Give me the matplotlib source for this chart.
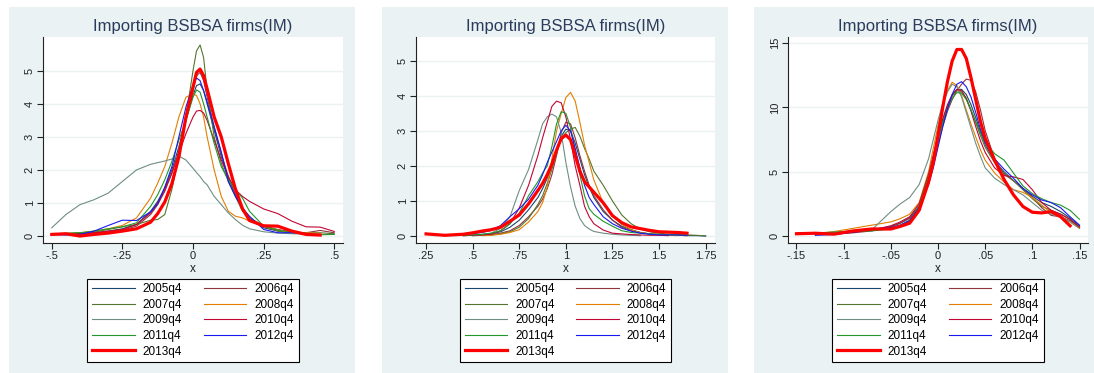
import numpy as np
import matplotlib
matplotlib.use("Agg")
import matplotlib.pyplot as plt
from matplotlib.patches import Rectangle

plt.rcParams['font.family'] = ['Liberation Sans', 'DejaVu Sans']

nan = np.nan

labels = ['2005q4', '2006q4', '2007q4', '2008q4', '2009q4',
          '2010q4', '2011q4', '2012q4', '2013q4']
colors = ['#1A476F', '#90353B', '#55752F', '#E37E00', '#6E8E84',
          '#C10534', '#22962A', '#1A1AF0', '#FF0000']
title = 'Importing BSBSA firms(IM)'

# ---- panel 1 ----
x1 = [-0.5, -0.45, -0.4, -0.35, -0.3, -0.25, -0.2, -0.15, -0.125, -0.1, -0.075, -0.05,
      -0.025, 0, 0.0125, 0.025, 0.0375, 0.05, 0.075, 0.1, 0.125, 0.15, 0.175, 0.2,
      0.25, 0.3, 0.35, 0.4, 0.45, 0.5]
p1_2005 = [0.04, 0.05, 0.06, 0.10, 0.15, 0.22, 0.35, 0.75, 1.05, 1.45, 2.0, 2.7, 3.5, 4.25, 4.55,
           4.6, 4.4, 4.0, 3.2, 2.4, 1.75, 1.25, 0.85, 0.55, 0.25, 0.15, 0.10, 0.06, 0.04, nan]
p1_2006 = [0.06, 0.06, 0.05, 0.08, 0.12, 0.18, 0.30, 0.65, 0.95, 1.35, 1.9, 2.6, 3.5, 4.4, 4.85,
           4.95, 4.7, 4.2, 3.3, 2.5, 1.8, 1.25, 0.85, 0.55, 0.30, 0.20, 0.12, 0.10, 0.17, 0.10]
p1_2007 = [0.07, 0.08, 0.10, 0.12, 0.20, 0.28, 0.35, 0.48, 0.50, 0.65, 1.4, 2.4, 3.6, 5.0, 5.6,
           5.78, 5.4, 4.4, 3.0, 2.2, 1.65, 1.2, 0.75, 0.55, 0.30, 0.15, 0.10, 0.10, 0.10, 0.07]
p1_2008 = [0.05, 0.07, 0.10, 0.15, 0.22, 0.32, 0.55, 1.15, 1.6, 2.1, 2.8, 3.6, 4.2, 4.3, 4.25,
           4.0, 3.6, 3.0, 2.0, 1.2, 0.75, 0.6, 0.55, 0.45, 0.30, 0.18, 0.12, 0.10, 0.08, nan]
p1_2009 = [0.25, 0.65, 0.95, 1.10, 1.30, 1.65, 2.0, 2.17, 2.22, 2.27, 2.33, 2.42, 2.3, 2.05, 1.92,
           1.8, 1.65, 1.55, 1.2, 0.95, 0.7, 0.5, 0.33, 0.22, 0.13, 0.09, 0.07, 0.06, 0.05, nan]
p1_2010 = [0.06, 0.07, 0.08, 0.10, 0.15, 0.20, 0.35, 0.7, 1.0, 1.4, 1.9, 2.5, 3.1, 3.6, 3.78,
           3.8, 3.72, 3.5, 2.9, 2.3, 1.8, 1.4, 1.2, 1.05, 0.82, 0.68, 0.45, 0.28, 0.27, 0.14]
p1_2011 = [0.05, 0.08, 0.10, 0.15, 0.22, 0.28, 0.40, 0.9, 1.25, 1.7, 2.25, 2.9, 3.5, 4.2, 4.42,
           4.35, 4.0, 3.6, 2.8, 2.1, 1.7, 1.4, 1.15, 0.75, 0.30, 0.18, 0.12, 0.06, 0.04, 0.05]
p1_2012 = [0.05, 0.03, 0.05, 0.15, 0.32, 0.48, 0.47, 0.73, 0.98, 1.48, 2.09, 3.0, 3.9, 4.56, 4.78,
           4.7, 4.4, 4.05, 3.3, 2.55, 1.65, 1.2, 0.85, 0.6, 0.2, 0.1, 0.1, 0.08, 0.02, nan]
p1_2013 = [0.05, 0.07, 0.00, 0.05, 0.09, 0.15, 0.22, 0.42, 0.68, 1.03, 1.58, 2.39, 3.6, 4.5, 4.95,
           5.05, 4.85, 4.45, 3.6, 3.0, 2.19, 1.43, 0.83, 0.47, 0.31, 0.30, 0.15, 0.05, 0.03, nan]

# ---- panel 2 ----
x2 = [0.25, 0.35, 0.45, 0.5, 0.55, 0.6, 0.65, 0.7, 0.75, 0.8, 0.85, 0.875, 0.9, 0.925, 0.95,
      0.975, 1.0, 1.025, 1.05, 1.075, 1.1, 1.125, 1.15, 1.2, 1.25, 1.3, 1.35, 1.4, 1.45, 1.5,
      1.55, 1.6, 1.65, 1.7, 1.75]
p2_2005 = [nan, nan, 0.01, 0.02, 0.04, 0.07, 0.12, 0.25, 0.45, 0.75, 1.1, 1.35, 1.65, 2.0, 2.45,
           2.85, 3.05, 3.0, 2.65, 2.2, 1.75, 1.4, 1.1, 0.7, 0.45, 0.28, 0.18, 0.1, 0.06, 0.04,
           0.03, 0.02, 0.01, 0.01, 0.0]
p2_2006 = [nan, nan, nan, 0.01, 0.02, 0.04, 0.08, 0.15, 0.3, 0.55, 0.85, 1.05, 1.35, 1.75, 2.3,
           2.95, 3.25, 3.2, 2.8, 2.3, 1.85, 1.45, 1.15, 0.75, 0.45, 0.25, 0.15, 0.1, 0.06, 0.04,
           0.03, 0.02, 0.01, nan, nan]
p2_2007 = [nan, nan, nan, 0.01, 0.02, 0.03, 0.06, 0.12, 0.25, 0.5, 0.9, 1.15, 1.5, 1.9, 2.35,
           2.8, 2.95, 3.05, 3.1, 2.85, 2.5, 2.2, 1.85, 1.45, 1.0, 0.6, 0.35, 0.2, 0.12, 0.08,
           0.05, 0.04, 0.03, 0.02, 0.0]
p2_2008 = [nan, nan, nan, nan, 0.01, 0.02, 0.05, 0.1, 0.18, 0.4, 0.7, 0.95, 1.4, 2.2, 3.0,
           3.5, 3.95, 4.1, 3.85, 3.25, 2.6, 2.1, 1.6, 0.95, 0.6, 0.33, 0.18, 0.09, 0.06, 0.03,
           0.02, 0.01, nan, nan, nan]
p2_2009 = [nan, nan, 0.01, 0.02, 0.04, 0.08, 0.22, 0.55, 1.3, 1.9, 2.75, 3.2, 3.4, 3.48, 3.4,
           2.95, 2.1, 1.4, 0.85, 0.5, 0.3, 0.2, 0.13, 0.08, 0.05, 0.03, 0.02, 0.01, nan, nan,
           nan, nan, nan, nan, nan]
p2_2010 = [nan, nan, 0.01, 0.02, 0.03, 0.05, 0.15, 0.35, 0.8, 1.45, 2.3, 2.8, 3.25, 3.7, 3.85,
           3.8, 3.4, 2.75, 2.0, 1.45, 0.85, 0.55, 0.35, 0.17, 0.08, 0.06, 0.04, 0.03, 0.02, 0.02,
           0.01, nan, nan, nan, nan]
p2_2011 = [nan, 0.01, 0.02, 0.03, 0.05, 0.08, 0.15, 0.35, 0.65, 1.15, 1.55, 1.8, 2.0, 2.55, 3.2,
           3.55, 3.5, 3.1, 2.4, 1.75, 1.15, 0.78, 0.62, 0.42, 0.28, 0.15, 0.1, 0.08, 0.06, 0.05,
           0.04, 0.03, 0.03, nan, nan]
p2_2012 = [nan, 0.02, 0.05, 0.07, 0.1, 0.16, 0.3, 0.55, 0.78, 1.05, 1.45, 1.75, 2.1, 2.4, 2.7,
           3.0, 3.16, 3.0, 2.5, 1.95, 1.45, 1.1, 0.9, 0.55, 0.35, 0.22, 0.14, 0.08, 0.05, 0.03,
           0.03, 0.03, 0.02, nan, nan]
p2_2013 = [0.06, 0.02, 0.05, 0.09, 0.14, 0.18, 0.25, 0.42, 0.6, 0.92, 1.3, 1.5, 1.75, 2.05, 2.45,
           2.78, 2.88, 2.75, 2.3, 1.85, 1.55, 1.4, 1.25, 0.95, 0.58, 0.38, 0.26, 0.21, 0.16, 0.12,
           0.11, 0.1, 0.08, nan, nan]

# ---- panel 3 ----
x3 = [-0.15, -0.13, -0.11, -0.09, -0.07, -0.05, -0.04, -0.03, -0.02, -0.01, -0.005, 0, 0.005,
      0.01, 0.015, 0.02, 0.025, 0.03, 0.035, 0.04, 0.045, 0.05, 0.06, 0.07, 0.08, 0.09, 0.1,
      0.11, 0.12, 0.13, 0.14, 0.15]
p3_2005 = [nan, 0.12, 0.2, 0.35, 0.5, 0.75, 1.0, 1.4, 2.3, 4.4, 5.9, 7.5, 8.9, 10.0, 10.9, 11.4,
           11.4, 11.0, 10.2, 9.2, 8.1, 7.1, 5.8, 5.0, 4.3, 3.7, 3.1, 2.6, 2.3, 1.9, 1.4, 0.8]
p3_2006 = [nan, 0.1, 0.15, 0.25, 0.4, 0.7, 1.0, 1.4, 2.3, 4.2, 5.6, 7.1, 8.5, 9.7, 10.6, 11.3,
           11.8, 12.2, 12.1, 11.2, 9.8, 8.2, 6.0, 4.8, 4.3, 3.7, 3.0, 2.2, 1.6, 1.5, 1.2, 0.7]
p3_2007 = [0.2, 0.22, 0.28, 0.35, 0.45, 0.6, 0.85, 1.25, 2.3, 4.5, 6.0, 7.6, 9.0, 10.1, 10.9, 11.3,
           11.2, 10.7, 9.8, 8.8, 7.8, 6.9, 5.7, 4.9, 4.3, 3.6, 2.9, 2.3, 2.0, 1.7, 1.3, 0.7]
p3_2008 = [nan, 0.2, 0.35, 0.6, 0.85, 1.1, 1.35, 1.7, 2.6, 5.0, 6.8, 8.6, 10.2, 11.3, 11.95, 11.7,
           10.9, 9.8, 8.7, 7.7, 6.7, 5.9, 4.9, 4.2, 3.6, 3.4, 3.0, 2.4, 1.8, 1.5, 1.1, 0.6]
p3_2009 = [0.2, 0.22, 0.3, 0.4, 0.5, 1.9, 2.5, 3.0, 4.0, 6.0, 7.5, 9.0, 10.3, 11.2, 11.8, 11.6,
           10.8, 9.6, 8.4, 7.2, 6.2, 5.3, 4.5, 4.0, 3.6, 3.2, 2.6, 2.0, 1.7, 1.5, 1.1, 0.6]
p3_2010 = [nan, 0.15, 0.2, 0.3, 0.45, 0.8, 1.1, 1.5, 2.5, 4.8, 6.3, 7.8, 9.1, 10.2, 11.0, 11.4,
           11.3, 10.7, 9.7, 8.5, 7.4, 6.5, 5.3, 4.7, 4.6, 4.4, 3.6, 2.6, 2.0, 1.7, 1.3, 0.7]
p3_2011 = [0.22, 0.25, 0.3, 0.38, 0.4, 0.55, 0.75, 1.15, 2.3, 4.6, 6.0, 7.5, 8.8, 9.9, 10.7, 11.15,
           11.1, 10.6, 9.8, 8.9, 8.0, 7.3, 6.4, 5.9, 4.9, 3.9, 3.3, 2.9, 2.6, 2.4, 2.0, 1.3]
p3_2012 = [nan, 0.06, 0.12, 0.3, 0.55, 0.65, 0.85, 1.2, 2.2, 4.0, 5.3, 6.9, 8.5, 9.9, 11.0, 11.8,
           12.0, 11.6, 10.8, 9.6, 8.3, 7.3, 6.0, 5.2, 4.5, 3.7, 3.2, 2.8, 2.6, 2.2, 1.5, 0.85]
p3_2013 = [0.18, 0.22, 0.15, 0.4, 0.55, 0.55, 0.75, 1.0, 2.0, 4.2, 5.7, 7.8, 10.0, 12.0, 13.6, 14.5,
           14.5, 13.8, 12.3, 10.6, 8.9, 7.6, 5.9, 4.4, 3.2, 2.3, 1.85, 1.8, 1.9, 1.5, 0.8, nan]

x1_ticks = [-0.5, -0.25, 0, 0.25, 0.5]
x1_labels = ['-.5', '-.25', '0', '.25', '.5']
x2_ticks = [0.25, 0.5, 0.75, 1, 1.25, 1.5, 1.75]
x2_labels = ['.25', '.5', '.75', '1', '1.25', '1.5', '1.75']
x3_ticks = [-0.15, -0.1, -0.05, 0, 0.05, 0.1, 0.15]
x3_labels = ['-.15', '-.1', '-.05', '0', '.05', '.1', '.15']

panels = [
    dict(x=x1, ys=[p1_2005, p1_2006, p1_2007, p1_2008, p1_2009, p1_2010, p1_2011, p1_2012, p1_2013],
         xt=x1_ticks, xl=x1_labels, yt=[0, 1, 2, 3, 4, 5], xlim=(-0.531, 0.531), ylim=(-0.21, 6.02),
         bg=(9, 355), ax=(43, 343)),
    dict(x=x2, ys=[p2_2005, p2_2006, p2_2007, p2_2008, p2_2009, p2_2010, p2_2011, p2_2012, p2_2013],
         xt=x2_ticks, xl=x2_labels, yt=[0, 1, 2, 3, 4, 5], xlim=(0.196, 1.80), ylim=(-0.2, 5.68),
         bg=(382, 728), ax=(416, 715)),
    dict(x=x3, ys=[p3_2005, p3_2006, p3_2007, p3_2008, p3_2009, p3_2010, p3_2011, p3_2012, p3_2013],
         xt=x3_ticks, xl=x3_labels, yt=[0, 5, 10, 15], xlim=(-0.159, 0.159), ylim=(-0.54, 15.47),
         bg=(754, 1094), ax=(788, 1088)),
]

W, H = 1094, 373
fig = plt.figure(figsize=(W / 100, H / 100), dpi=100)
fig.patch.set_facecolor('white')

top_px, bot_px = 37, 243
for p in panels:
    b0, b1 = p['bg']
    fig.add_artist(Rectangle((b0 / W, 0), (b1 - b0) / W, (H - 7) / H,
                             transform=fig.transFigure, facecolor='#EAF2F3',
                             edgecolor='none', zorder=-10))
    a0, a1 = p['ax']
    ax = fig.add_axes([a0 / W, (H - bot_px) / H, (a1 - a0) / W, (bot_px - top_px) / H])
    ax.set_facecolor('white')
    lines = []
    for i, y in enumerate(p['ys']):
        lw = 2.3 if i == 8 else 0.8
        ln, = ax.plot(p['x'], y, color=colors[i], lw=lw, label=labels[i],
                      solid_joinstyle='round', zorder=3 + i)
        lines.append(ln)
    ax.set_xlim(*p['xlim'])
    ax.set_ylim(*p['ylim'])
    ax.set_xticks(p['xt'])
    ax.set_xticklabels(p['xl'])
    ax.set_yticks(p['yt'])
    ax.set_yticklabels([str(v) for v in p['yt']], rotation=90, va='center')
    ax.yaxis.grid(True, color='#EAF2F3', lw=1.0)
    ax.set_axisbelow(True)
    for s in ['top', 'right']:
        ax.spines[s].set_visible(False)
    for s in ['left', 'bottom']:
        ax.spines[s].set_color('#222222')
        ax.spines[s].set_linewidth(0.8)
    ax.tick_params(direction='out', length=4, width=0.8, labelsize=8,
                   colors='#222222', pad=2)
    ax.set_xlabel('x', fontsize=8.5, labelpad=1, color='#222222')
    ax.set_title(title, fontsize=12, color='#2A3B5C', pad=4)

    order = [0, 2, 4, 6, 8, 1, 3, 5, 7]
    cx = (a0 + a1) / 2 / W
    leg = ax.legend([lines[k] for k in order], [labels[k] for k in order],
                    ncol=2, loc='center', bbox_to_anchor=(cx, 1 - 320.5 / H),
                    bbox_transform=fig.transFigure, fontsize=8.5, frameon=True,
                    fancybox=False, edgecolor='black', facecolor='white', framealpha=1,
                    handlelength=3.6, columnspacing=1.8, labelspacing=0.3,
                    borderpad=0.4, handletextpad=0.7)
    leg.get_frame().set_linewidth(0.8)

fig.savefig('out.png', dpi=100)
